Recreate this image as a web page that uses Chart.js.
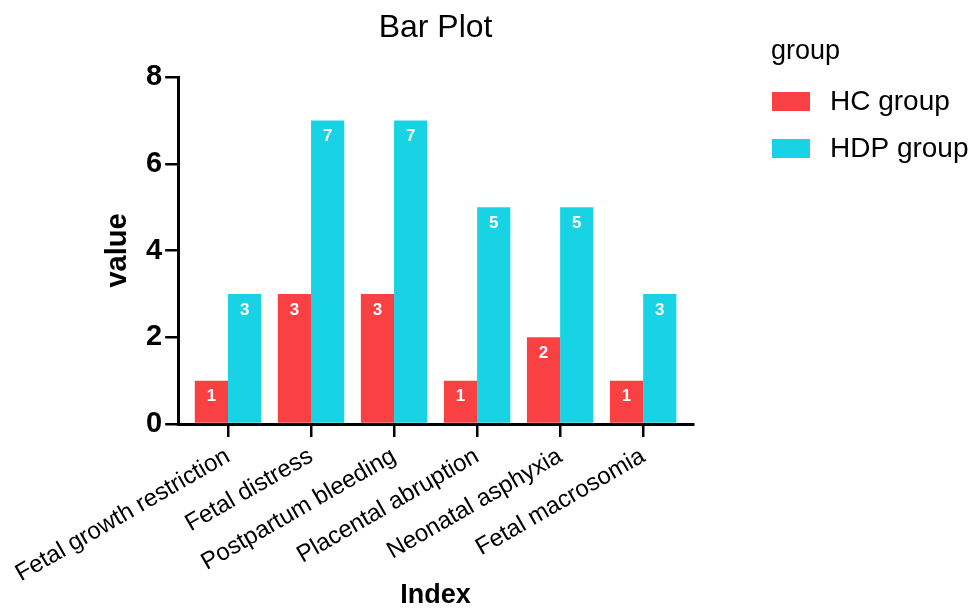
<!DOCTYPE html>
<html>
<head>
    <title>Bar Plot</title>
    <style>
        body { margin: 0; background: #fff; }
        #wrap { width: 971px; height: 612px; }
    </style>
    <script src="https://cdn.jsdelivr.net/npm/chart.js@4.4.1/dist/chart.umd.min.js"></script>
</head>
<body>
    <div id="wrap"><canvas id="myChart" width="971" height="612"></canvas></div>

    <script>
        // data
        var categories = ['Fetal growth restriction', 'Fetal distress', 'Postpartum bleeding',
            'Placental abruption', 'Neonatal asphyxia', 'Fetal macrosomia'];
        var hcValues = [1, 3, 3, 1, 2, 1];
        var hdpValues = [3, 7, 7, 5, 5, 3];
        var yTicks = [0, 2, 4, 6, 8];

        var FONT = "'Liberation Sans', Arial, sans-serif";

        // x is a linear scale so the axis can run a bit past the outer groups
        function toPoints(values) {
            return values.map(function (v, i) { return { x: i, y: v }; });
        }

        // white numbers inside the top of each bar
        var barNumbers = {
            id: 'barNumbers',
            afterDatasetsDraw: function (chart) {
                var ctx = chart.ctx;
                ctx.save();
                ctx.fillStyle = '#fff';
                ctx.font = 'bold 17px ' + FONT;
                ctx.textAlign = 'center';
                ctx.textBaseline = 'middle';
                chart.data.datasets.forEach(function (ds, i) {
                    chart.getDatasetMeta(i).data.forEach(function (bar, j) {
                        ctx.fillText(ds.data[j].y, bar.x, bar.y + 16);
                    });
                });
                ctx.restore();
            }
        };

        // title centred over the plot area, legend on the right
        var decorations = {
            id: 'decorations',
            afterDraw: function (chart) {
                var ctx = chart.ctx;
                var area = chart.chartArea;
                ctx.save();
                ctx.fillStyle = '#000';
                ctx.textAlign = 'center';
                ctx.textBaseline = 'alphabetic';
                ctx.font = '32px ' + FONT;
                ctx.fillText('Bar Plot', (area.left + area.right) / 2, 37);

                ctx.textAlign = 'left';
                ctx.textBaseline = 'middle';
                ctx.font = '27px ' + FONT;
                ctx.fillText('group', 771, 52);
                ctx.font = '28px ' + FONT;
                chart.data.datasets.forEach(function (ds, i) {
                    var y = 101 + i * 47;
                    ctx.fillStyle = ds.backgroundColor;
                    ctx.fillRect(772, y - 9, 38, 19);
                    ctx.fillStyle = '#000';
                    ctx.fillText(ds.label, 830, y + 1);
                });
                ctx.restore();
            }
        };

        var ctx = document.getElementById('myChart').getContext('2d');
        var myChart = new Chart(ctx, {
            type: 'bar',
            data: {
                datasets: [{
                    label: 'HC group',
                    data: toPoints(hcValues),
                    backgroundColor: '#F94144',
                    barPercentage: 1,
                    categoryPercentage: 0.8
                }, {
                    label: 'HDP group',
                    data: toPoints(hdpValues),
                    backgroundColor: '#18D3E4',
                    barPercentage: 1,
                    categoryPercentage: 0.8
                }]
            },
            options: {
                responsive: false,
                animation: false,
                layout: { padding: { left: 54, right: 278, top: 77, bottom: 0 } },
                plugins: {
                    legend: { display: false },
                    tooltip: { enabled: false }
                },
                scales: {
                    x: {
                        type: 'linear',
                        offset: false,
                        min: -0.6,
                        max: categories.length - 0.4,
                        afterBuildTicks: function (scale) {
                            scale.ticks = categories.map(function (c, i) { return { value: i }; });
                        },
                        afterFit: function (scale) {
                            scale.height = 188;
                        },
                        grid: {
                            offset: false,
                            drawOnChartArea: false,
                            color: '#000',
                            lineWidth: 2.5,
                            tickLength: 13
                        },
                        border: { color: '#000', width: 3 },
                        ticks: {
                            color: '#000',
                            font: { family: FONT, size: 24 },
                            minRotation: 30,
                            maxRotation: 30,
                            padding: 5,
                            callback: function (value) { return categories[value]; }
                        },
                        title: {
                            display: true,
                            text: 'Index',
                            color: '#000',
                            font: { family: FONT, size: 27, weight: 'bold' },
                            padding: { top: 0, bottom: 0 }
                        }
                    },
                    y: {
                        min: 0,
                        max: 8,
                        afterBuildTicks: function (scale) {
                            scale.ticks = yTicks.map(function (v) { return { value: v }; });
                        },
                        grid: {
                            drawOnChartArea: false,
                            color: '#000',
                            lineWidth: 2.5,
                            tickLength: 13
                        },
                        border: { color: '#000', width: 3 },
                        ticks: {
                            color: '#000',
                            font: { family: FONT, size: 29, weight: 'bold' },
                            padding: 3
                        },
                        title: {
                            display: true,
                            text: 'value',
                            color: '#000',
                            font: { family: FONT, size: 29, weight: 'bold' },
                            padding: { top: 0, bottom: 8 }
                        }
                    }
                }
            },
            plugins: [barNumbers, decorations]
        });
    </script>
</body>
</html>
